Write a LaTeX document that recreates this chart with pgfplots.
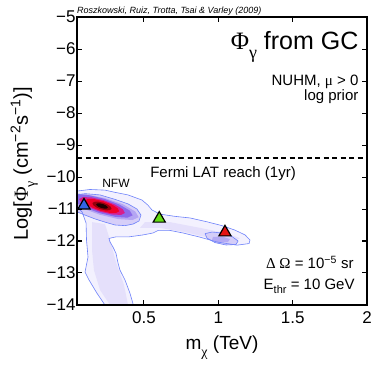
\documentclass[border=0pt]{standalone}
\usepackage{fontspec}
\setmainfont{Liberation Sans}
\newfontfamily\gr{Liberation Serif}
\usepackage{pgfplots}
\pgfplotsset{compat=1.18}

\definecolor{cline}{RGB}{110,130,250}
\definecolor{c0}{RGB}{243,241,254}
\definecolor{c1}{RGB}{229,224,251}
\definecolor{c2}{RGB}{214,206,248}
\definecolor{c3}{RGB}{180,165,243}
\definecolor{c4}{RGB}{140,105,235}
\definecolor{c5}{RGB}{215,30,140}
\definecolor{c6}{RGB}{240,0,40}
\definecolor{c7}{RGB}{150,0,10}
\definecolor{c8}{RGB}{30,0,0}
\definecolor{e1}{RGB}{212,205,248}
\definecolor{e2}{RGB}{180,170,244}
\definecolor{tblue}{RGB}{50,100,230}
\definecolor{tgreen}{RGB}{100,220,20}
\definecolor{tred}{RGB}{230,20,20}

\newcommand\fs[1]{\fontsize{#1}{#1}\selectfont}
\newcommand\lsub[3]{\raisebox{#1}{\fs{#2}#3}}

\begin{document}
\begin{tikzpicture}
\begin{axis}[
    scale only axis,
    width=290pt, height=288pt,
    xmin=0.05, xmax=2, ymin=-14, ymax=-5,
    xtick={0.5,1,1.5,2}, xticklabels={0.5,1,1.5,2},
    ytick={-14,-13,-12,-11,-10,-9,-8,-7,-6,-5},
    yticklabels={−14,−13,−12,−11,−10,−9,−8,−7,−6,−5},
    tick align=inside, major tick length=5pt,
    axis line style={line width=1.3pt},
    every tick/.style={black, line width=1pt},
    tick label style={font=\fs{17}},
    yticklabel style={xshift=2pt},
    xticklabel style={yshift=-3pt},
    xlabel={m\lsub{-7pt}{14}{\gr χ} (TeV)},
    xlabel style={font=\fs{19}, at={(axis description cs:0.5,0)}, anchor=base, yshift=-44pt},
    ylabel={Log[{\gr Φ}\lsub{-7pt}{14}{\gr γ} (cm\textsuperscript{−2}s\textsuperscript{−1})]},
    ylabel style={font=\fs{20}, at={(axis description cs:-0.169,0.49)}, anchor=base},
    axis on top,
    clip mode=individual,
]
% outer (lowest) level
\addplot[draw=none, fill=c0] coordinates {
(0.050,-10.44) (0.137,-10.39) (0.238,-10.41) (0.306,-10.48) (0.393,-10.56) (0.487,-10.72)
(0.527,-10.88) (0.554,-11.03) (0.608,-11.16) (0.709,-11.23) (0.810,-11.28) (0.924,-11.40)
(1.025,-11.52) (1.112,-11.66) (1.180,-11.81) (1.213,-11.97) (1.207,-12.08) (1.126,-12.13)
(0.991,-12.03) (0.877,-11.88) (0.763,-11.75) (0.675,-11.67) (0.595,-11.67) (0.561,-11.75)
(0.494,-11.81) (0.400,-11.87) (0.312,-11.87) (0.265,-11.92) (0.272,-12.03) (0.292,-12.19)
(0.312,-12.38) (0.326,-12.69) (0.339,-12.91) (0.373,-13.22) (0.406,-13.63) (0.429,-14.00)
(0.238,-14.00) (0.184,-13.63) (0.131,-13.22) (0.104,-12.97) (0.124,-12.50) (0.114,-11.97)
(0.111,-11.44) (0.084,-11.09) (0.050,-10.94)};
% band and arm interiors
\addplot[draw=none, fill=c1] coordinates {
(0.151,-11.41) (0.238,-11.47) (0.272,-11.97) (0.312,-12.66) (0.366,-13.375) (0.393,-14.00)
(0.272,-14.00) (0.205,-13.53) (0.164,-12.91) (0.151,-12.28)};
\addplot[draw=none, fill=c1] coordinates {
(0.507,-11.41) (0.675,-11.41) (0.877,-11.59) (1.045,-11.75) (1.146,-11.91) (1.112,-12.00)
(0.944,-11.91) (0.776,-11.72) (0.608,-11.59) (0.474,-11.59)};
% second level around the main peak
\addplot[draw=none, fill=c2] coordinates {
(0.050,-10.56) (0.104,-10.52) (0.205,-10.56) (0.306,-10.70) (0.393,-10.84) (0.453,-11.00)
(0.480,-11.19) (0.467,-11.375) (0.427,-11.47) (0.373,-11.52) (0.306,-11.50) (0.238,-11.41)
(0.171,-11.31) (0.104,-11.19) (0.050,-11.09)};
% second level around the heavy-mass peak
\addplot[draw=none, fill=e1] coordinates {
(0.911,-11.77) (0.958,-11.72) (1.025,-11.75) (1.092,-11.86) (1.133,-12.00) (1.119,-12.11)
(1.052,-12.125) (0.978,-12.05) (0.924,-11.91)};
\addplot[draw=none, fill=e2] coordinates {
(0.964,-11.875) (1.025,-11.86) (1.079,-11.94) (1.065,-12.03) (0.998,-12.05) (0.958,-11.97)};
% core of the main peak
\addplot[draw=none, fill=c3] coordinates {
(0.465,-11.256) (0.423,-11.344) (0.326,-11.314) (0.200,-11.175) (0.079,-10.964) (-0.005,-10.737)
(-0.029,-10.556) (0.013,-10.500) (0.110,-10.540) (0.236,-10.660) (0.357,-10.848) (0.441,-11.075)};
\addplot[draw=none, fill=c4] coordinates {
(0.424,-11.198) (0.389,-11.271) (0.308,-11.246) (0.203,-11.130) (0.102,-10.954) (0.032,-10.765)
(0.012,-10.614) (0.047,-10.541) (0.128,-10.566) (0.233,-10.682) (0.334,-10.858) (0.404,-11.047)};
\addplot[draw=none, fill=c5] coordinates {
(0.372,-11.125) (0.346,-11.185) (0.285,-11.171) (0.206,-11.085) (0.131,-10.952) (0.079,-10.806)
(0.064,-10.687) (0.090,-10.627) (0.151,-10.641) (0.230,-10.727) (0.305,-10.860) (0.358,-11.006)};
\addplot[draw=none, fill=c6] coordinates {
(0.334,-11.070) (0.313,-11.123) (0.267,-11.118) (0.208,-11.055) (0.152,-10.953) (0.113,-10.838)
(0.102,-10.742) (0.123,-10.689) (0.169,-10.694) (0.228,-10.757) (0.284,-10.859) (0.323,-10.974)};
\addplot[draw=none, fill=c7] coordinates {
(0.282,-10.997) (0.270,-11.037) (0.244,-11.042) (0.211,-11.011) (0.180,-10.951) (0.159,-10.879)
(0.154,-10.815) (0.166,-10.775) (0.192,-10.770) (0.225,-10.801) (0.256,-10.861) (0.277,-10.933)};
\addplot[draw=none, fill=c8] coordinates {
(0.257,-10.961) (0.249,-10.985) (0.234,-10.988) (0.214,-10.969) (0.195,-10.933) (0.183,-10.890)
(0.179,-10.851) (0.187,-10.827) (0.202,-10.824) (0.222,-10.843) (0.241,-10.879) (0.253,-10.922)};
% contour lines
\addplot[cline, line width=0.6pt] coordinates {
(0.050,-10.44) (0.137,-10.39) (0.238,-10.41) (0.306,-10.48) (0.393,-10.56) (0.487,-10.72)
(0.527,-10.88) (0.554,-11.03) (0.608,-11.16) (0.709,-11.23) (0.810,-11.28) (0.924,-11.40)
(1.025,-11.52) (1.112,-11.66) (1.180,-11.81) (1.213,-11.97) (1.207,-12.08) (1.126,-12.13)
(0.991,-12.03) (0.877,-11.88) (0.763,-11.75) (0.675,-11.67) (0.595,-11.67) (0.561,-11.75)
(0.494,-11.81) (0.400,-11.87) (0.312,-11.87) (0.265,-11.92) (0.272,-12.03) (0.292,-12.19)
(0.312,-12.38) (0.326,-12.69) (0.339,-12.91) (0.373,-13.22) (0.406,-13.63) (0.429,-14.00)};
\addplot[cline, line width=0.6pt] coordinates {
(0.238,-14.00) (0.184,-13.63) (0.131,-13.22) (0.104,-12.97) (0.124,-12.50) (0.114,-11.97)
(0.111,-11.44) (0.084,-11.09) (0.050,-10.94)};
\addplot[cline, line width=0.6pt] coordinates {
(0.050,-10.56) (0.104,-10.52) (0.205,-10.56) (0.306,-10.70) (0.393,-10.84) (0.453,-11.00)
(0.480,-11.19) (0.467,-11.375) (0.427,-11.47) (0.373,-11.52) (0.306,-11.50) (0.238,-11.41)
(0.171,-11.31) (0.104,-11.19) (0.050,-11.09)};
\addplot[cline, line width=0.6pt] coordinates {
(0.911,-11.77) (0.958,-11.72) (1.025,-11.75) (1.092,-11.86) (1.133,-12.00) (1.119,-12.11)
(1.052,-12.125) (0.978,-12.05) (0.924,-11.91) (0.911,-11.77)};
% Fermi LAT reach
\addplot[black, line width=1.6pt, dash pattern=on 5pt off 3.5pt] coordinates {(0.05,-9.4) (2,-9.4)};
% benchmark points
\addplot[only marks, mark=triangle*, mark size=7pt, mark options={fill=tblue, draw=black, line width=1.2pt}]
  coordinates {(0.097,-10.89)};
\addplot[only marks, mark=triangle*, mark size=7pt, mark options={fill=tgreen, draw=black, line width=1.2pt}]
  coordinates {(0.603,-11.30)};
\addplot[only marks, mark=triangle*, mark size=7pt, mark options={fill=tred, draw=black, line width=1.2pt}]
  coordinates {(1.045,-11.73)};
% annotations
\node[anchor=base east, font=\fs{25}] at (axis cs:1.966,-6.03) {{\gr Φ}\lsub{-9pt}{18}{\gr γ} from GC};
\node[anchor=base east, font=\fs{15}] at (axis cs:1.966,-7.13) {NUHM, {\gr μ} > 0};
\node[anchor=base east, font=\fs{15}] at (axis cs:1.966,-7.61) {log prior};
\node[anchor=base, font=\fs{15}] at (axis cs:1.032,-10.03) {Fermi LAT reach (1yr)};
\node[anchor=base, font=\fs{12}] at (axis cs:0.312,-10.34) {NFW};
\node[anchor=base east, font=\fs{15}] at (axis cs:1.933,-12.875) {{\gr Δ Ω} = 10\textsuperscript{−5} sr};
\node[anchor=base east, font=\fs{15}] at (axis cs:1.94,-13.53) {E\lsub{-4pt}{11}{thr} = 10 GeV};
\node[anchor=base west, font=\fs{9}\itshape, inner sep=0pt] at (rel axis cs:0,1) [yshift=4pt] {Roszkowski, Ruiz, Trotta, Tsai \& Varley (2009)};
\end{axis}
\pgfresetboundingbox
\path[use as bounding box] (-77pt,-61pt) rectangle (297pt,305pt);
\end{tikzpicture}
\end{document}
